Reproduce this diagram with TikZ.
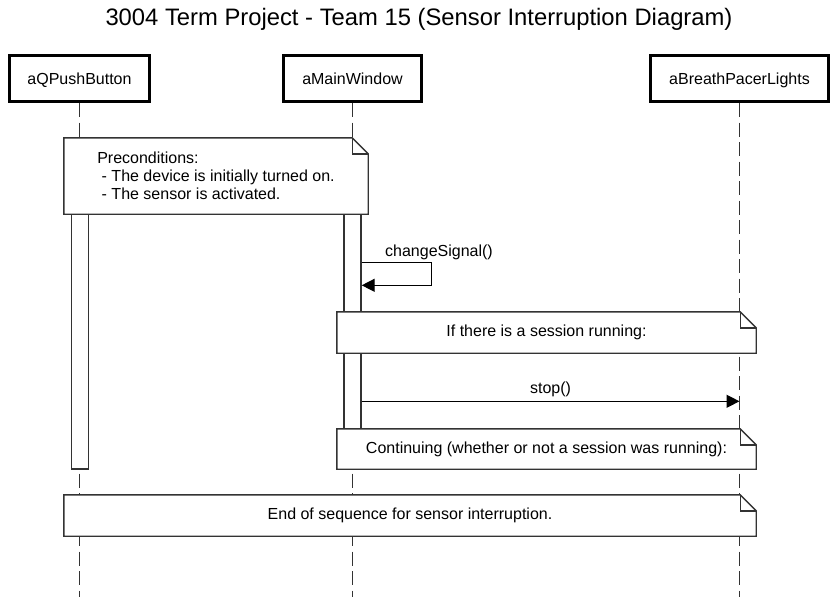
\documentclass[tikz,border=0pt]{standalone}
\usepackage{fontspec}
\setmainfont{Liberation Sans}
\usetikzlibrary{arrows.meta,calc}
\definecolor{edge}{HTML}{333333}
% outline of a note with a folded corner
\newcommand{\dogear}[1]{%
  \draw[notefold] (#1.north west) -- ($(#1.north east)+(-16,0)$) -- ($(#1.north east)+(0,16)$)
    -- (#1.south east) -- (#1.south west) -- cycle;
  \draw[notefold] ($(#1.north east)+(-16,0)$) -- ($(#1.north east)+(-16,16)$) -- ($(#1.north east)+(0,16)$);
}

\begin{document}
\begin{tikzpicture}[x=1pt,y=-1pt,
  head/.style={draw=black,line width=2.6pt,fill=white,minimum height=46.5pt,inner sep=0pt,
    text height=11.5pt,text depth=-3pt},
  lifeline/.style={edge,line width=1.9pt,dash pattern=on 14pt off 5.5pt},
  bar/.style={draw=edge,line width=1.4pt,fill=white,minimum width=17pt,inner sep=0pt},
  notebox/.style={fill=white,inner sep=0pt},
  notefold/.style={draw=edge,line width=1.4pt,line join=miter},
  msg/.style={black,line width=1.4pt,-{Triangle[length=13pt,width=13pt]}},
  msgtext/.style={inner sep=0pt},
  font=\fontsize{16}{18}\selectfont]
  \useasboundingbox (0,0) rectangle (838,597);
  \coordinate (bot) at (0,597);

  \node (title) at (419,19) {\fontsize{23.8}{28}\selectfont 3004 Term Project - Team 15 (Sensor Interruption Diagram)};

  % lifeline heads
  \node[head,minimum width=140.5pt] (btn) at (79.5,78.5) {aQPushButton};
  \node[head,minimum width=138.5pt] (win) at (352.5,78.5) {aMainWindow};
  \node[head,minimum width=178.5pt] (lights) at (739.5,78.5) {aBreathPacerLights};

  % lifelines
  \foreach \n in {btn,win,lights}
    \draw[lifeline] (\n.south) -- (\n.south |- bot);

  % activation bars
  \node[bar,minimum height=279pt] (btnbar) at (80,329.5) {};
  \node[bar,minimum height=239pt] (winbar) at (352.5,309.5) {};

  % notes
  \node[notebox,minimum width=304pt,minimum height=76pt,align=left] (pre) at (216,176)
    {Preconditions:\\~- The device is initially turned on.\\~- The sensor is activated.};
  \dogear{pre}
  \node[notebox,minimum width=419pt,minimum height=41pt] (ifrun) at (546.5,332.5)
    {If there is a session running:};
  \dogear{ifrun}
  \node[notebox,minimum width=419pt,minimum height=40pt] (cont) at (546.5,449)
    {Continuing (whether or not a session was running):};
  \dogear{cont}
  \node[notebox,minimum width=692pt,minimum height=41pt] (done) at (410,515.5)
    {End of sequence for sensor interruption.};
  \dogear{done}

  % messages
  \path (winbar.north east) ++(0,73) coordinate (sigout) ++(0,23) coordinate (sigin);
  \draw[msg] (sigout) -- ++(70,0) |- (sigin);
  \node[msgtext,anchor=west] (sigtext) at (385,252) {changeSignal()};

  \path (winbar.north east) ++(0,212) coordinate (stopout);
  \coordinate (stopin) at (lights.south |- stopout);
  \draw[msg] (stopout) -- (stopin);
  \node[msgtext] (stoptext) at (550.5,389) {stop()};
\end{tikzpicture}
\end{document}
